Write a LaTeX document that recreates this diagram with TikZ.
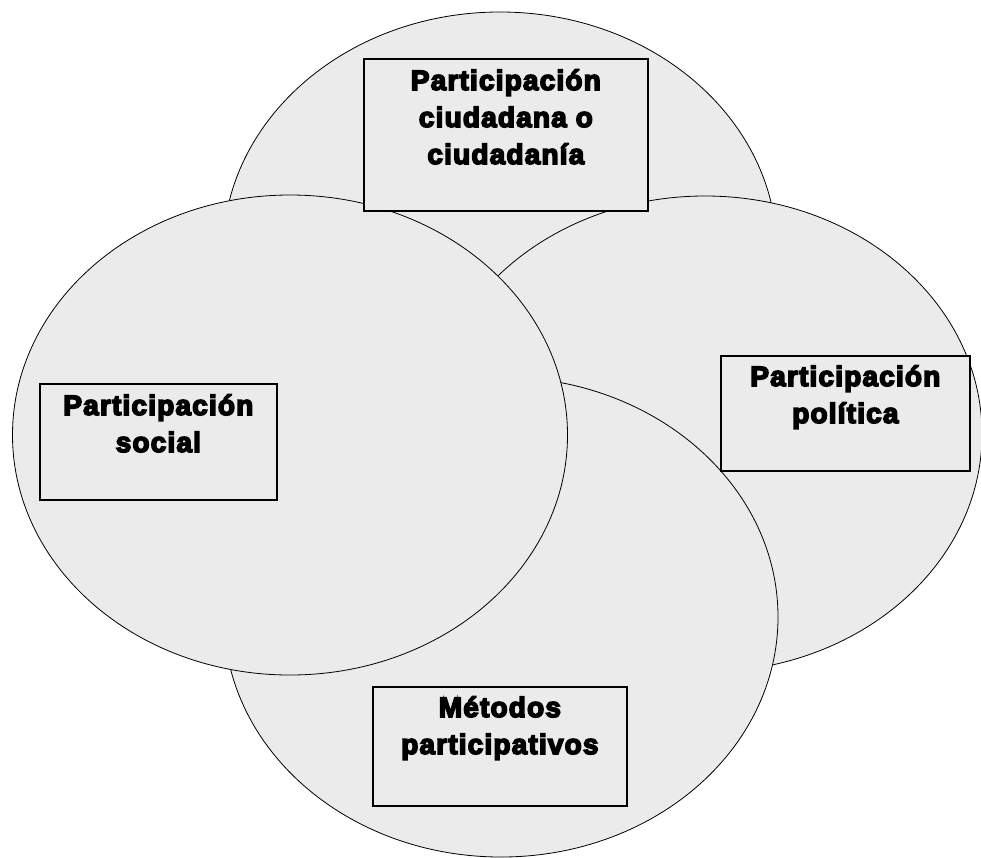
\documentclass[tikz,border=0pt]{standalone}
\usepackage{fontspec}
\newfontfamily\boxfont[LetterSpace=4.2,FakeBold=5.5]{Liberation Sans Bold}
\definecolor{circfill}{RGB}{235,235,235}
\begin{document}
\begin{tikzpicture}[x=1pt,y=-1pt,
  circ/.style={draw=black, line width=0.8pt, fill=circfill},
  boxstyle/.style={draw=black, line width=1.7pt, fill=circfill, inner sep=0pt, anchor=north west},
  lbl/.style={font=\boxfont\fontsize{28}{37}\selectfont, align=center, anchor=base, inner sep=0pt}]
\useasboundingbox (0,0) rectangle (981,857);
% overlapping ellipses (back to front)
\path[circ] (500,252) ellipse (277 and 240);
\path[circ] (705,434) ellipse (277 and 238);
\path[circ] (501,617) ellipse (277 and 240);
\path[circ] (290,435) ellipse (277.5 and 240);
% boxes
\node[boxstyle, minimum width=284pt, minimum height=152pt] (topbox) at (363,58) {};
\node[boxstyle, minimum width=237pt, minimum height=116pt] (leftbox) at (39,383) {};
\node[boxstyle, minimum width=249pt, minimum height=115pt] (rightbox) at (720,355) {};
\node[boxstyle, minimum width=254pt, minimum height=119pt] (bottombox) at (372,686) {};
% labels (anchor = baseline of the last line)
\node[lbl] (toptext) at ([yshift=-106pt]topbox.north) {Participación\\ciudadana o\\ciudadanía};
\node[lbl] (lefttext) at ([yshift=-69pt]leftbox.north) {Participación\\social};
\node[lbl] (righttext) at ([yshift=-68pt]rightbox.north) {Participación\\política};
\node[lbl] (bottomtext) at ([yshift=-68pt]bottombox.north) {Métodos\\participativos};
\end{tikzpicture}
\end{document}
